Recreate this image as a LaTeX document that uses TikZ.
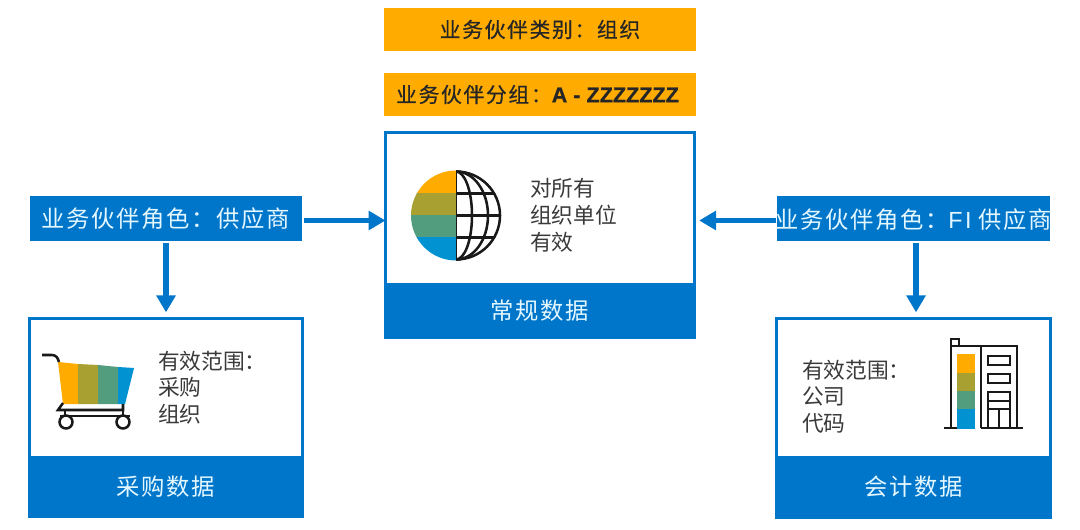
\documentclass[tikz,border=0pt]{standalone}
\usepackage{fontspec}
\usetikzlibrary{arrows.meta}
\newfontfamily\cjk{Noto Sans CJK SC}
\newfontfamily\cjkwide[LetterSpace=7]{Noto Sans CJK SC}
\newfontfamily\cjkwidebold[LetterSpace=8,FakeBold=0.6]{Noto Sans CJK SC}
\newfontfamily\latinbold[FakeBold=0.8]{Liberation Sans Bold}
\newfontfamily\latinwide[LetterSpace=10]{Liberation Sans}
\definecolor{sapblue}{HTML}{0076CB}
\definecolor{saporange}{HTML}{FFAB00}
\definecolor{sapolive}{HTML}{A9A032}
\definecolor{sapgreen}{HTML}{519D7D}
\definecolor{sapcyan}{HTML}{0092D1}
\definecolor{lighttext}{HTML}{E4F7FF}
\definecolor{bodytext}{HTML}{3A3A3A}
\tikzset{
  bar/.style={fill=saporange,inner sep=0pt,outer sep=0pt,minimum width=312*0.75pt,minimum height=43*0.75pt,text=black!85,font=\fontsize{15.6}{18}\selectfont\cjkwidebold},
  rolebar/.style={fill=sapblue,inner sep=0pt,outer sep=0pt,minimum height=45*0.75pt,text=lighttext,font=\fontsize{17.5}{20}\selectfont\cjkwide},
  panel/.style={draw=sapblue,fill=white,line width=2.25pt,inner sep=0pt,outer sep=0pt},
  footer/.style={fill=sapblue,inner sep=0pt,outer sep=0pt,text=lighttext,font=\fontsize{17.5}{20}\selectfont\cjkwide},
  bodylabel/.style={inner sep=0pt,outer sep=0pt,anchor=north west,align=left,text=bodytext,font=\fontsize{16.3}{20}\selectfont\cjk},
  flow/.style={draw=sapblue,line width=4pt,-{Triangle[length=12.75pt,width=14pt]}},
  icon/.style={draw=black!90,line width=1.9pt,line join=miter}
}
\begin{document}
\begin{tikzpicture}[x=0.75pt,y=-0.75pt]
\useasboundingbox (0,0) rectangle (1080,530);
\fill[white] (0,0) rectangle (1080,530);

% top bars
\node[bar] (kind) at (540,29.5) {业务伙伴类别：组织};
\node[bar] (group) at (540,94.5) {业务伙伴分组：{\fontsize{16.2}{18}\selectfont\latinbold A - ZZZZZZZ}\hspace*{3.75pt}};

% panels
\node[panel,minimum width=309*0.75pt,minimum height=152*0.75pt] (general) at (540,209) {};
\node[footer,minimum width=312*0.75pt,minimum height=56*0.75pt] (generalfoot) at (540,311) {常规数据};
\node[panel,minimum width=273*0.75pt,minimum height=139*0.75pt] (purch) at (166,388.5) {};
\node[footer,minimum width=276*0.75pt,minimum height=62*0.75pt] (purchfoot) at (166,487) {采购数据};
\node[panel,minimum width=274*0.75pt,minimum height=138*0.75pt] (acct) at (913.5,388) {};
\node[footer,minimum width=277*0.75pt,minimum height=63*0.75pt] (acctfoot) at (913.5,487) {会计数据};

% role bars
\node[rolebar,minimum width=272*0.75pt] (roleL) at (166,218.5) {\raisebox{-1.1pt}{业务伙伴角色：供应商}};
\node[rolebar,minimum width=273*0.75pt] (roleR) at (913.5,218.5) {};
\begin{scope}
\clip (777,196) rectangle (1050,241);
\node[inner sep=0pt,outer sep=0pt,text=lighttext,yshift=-1.1pt,font=\fontsize{17.5}{20}\selectfont\cjkwide] (roleRtext) at (roleR.center) {业务伙伴角色：{\latinwide FI} 供应商};
\end{scope}

% connectors
\coordinate (lefttail) at ([yshift=-1.5pt]roleL.east);
\coordinate (righttail) at ([yshift=-1.5pt]roleR.west);
\coordinate (rightdown) at ([xshift=1.9pt]roleR.south);
\draw[flow,shorten <=1.5pt] (lefttail) -- (lefttail -| general.west);
\draw[flow,shorten <=0.75pt,shorten >=3.5pt] (righttail) -- (righttail -| general.east);
\draw[flow,shorten <=1.5pt,shorten >=5pt] (roleL.south) -- (purch.north);
\draw[flow,shorten <=1.5pt,shorten >=5pt] (rightdown) -- (rightdown |- acct.north);

% body text
\node[bodylabel] (gtext) at (530,178.5) {对所有\\组织单位\\有效};
\node[bodylabel] (ptext) at (158,351) {有效范围：\\采购\\组织};
\node[bodylabel] (atext) at (802,360) {有效范围：\\公司\\代码};

% globe icon
\begin{scope}
\clip (456,215.5) circle (45);
\fill[saporange] (411,170) rectangle (456,193.5);
\fill[sapolive] (411,193.5) rectangle (456,215.5);
\fill[sapgreen] (411,215.5) rectangle (456,237.5);
\fill[sapcyan] (411,237.5) rectangle (456,261);
\draw[icon] (456,193.5) -- (505,193.5) (456,215.5) -- (505,215.5) (456,237.5) -- (505,237.5);
\end{scope}
\begin{scope}
\clip (456,165) rectangle (510,266);
\draw[icon] (456,215.5) circle (44);
\draw[icon] (456,215.5) ellipse (32 and 44);
\draw[icon] (456,215.5) ellipse (16 and 44);
\draw[icon] (456,171) -- (456,260);
\end{scope}

% cart icon
\fill[saporange] (58,362) -- (78,364) -- (78,404) -- (63,404) -- cycle;
\fill[sapolive] (78,364) -- (98,365) -- (98,404) -- (78,404) -- cycle;
\fill[sapgreen] (98,365) -- (118,367) -- (118,404) -- (98,404) -- cycle;
\fill[sapcyan] (118,367) -- (134,368) -- (125,404) -- (118,404) -- cycle;
\draw[icon] (42,355) -- (52,355) .. controls (56,355) and (58,358) .. (59,362);
\draw[icon] (63,403) -- (58,410) -- (123,410) -- (123,404);
\draw[icon] (65,410) -- (65,416) (123,410) -- (123,416) (60,416) -- (130,416);
\draw[icon,fill=white] (66,422) circle (6.5);
\draw[icon,fill=white] (123,422) circle (6.5);

% building icon
\fill[saporange] (957,354) rectangle (975,373);
\fill[sapolive] (957,373) rectangle (975,391);
\fill[sapgreen] (957,391) rectangle (975,409);
\fill[sapcyan] (957,409) rectangle (975,429);
\draw[icon] (944,428) -- (957,428) (981,428) -- (1023,428);
\draw[icon] (951,428) -- (951,339) -- (959,339) -- (959,346) -- (1017,346) -- (1017,428);
\draw[icon] (951,346) -- (959,346);
\draw[icon] (981,346) -- (981,428);
\draw[icon] (988,356) rectangle (1010,365);
\draw[icon] (988,374) rectangle (1010,383);
\draw[icon] (988,392) rectangle (1010,409);
\draw[icon] (988,401) -- (1010,401) (988,409) -- (988,428) (999,409) -- (999,428) (1010,409) -- (1010,428);
\end{tikzpicture}
\end{document}
